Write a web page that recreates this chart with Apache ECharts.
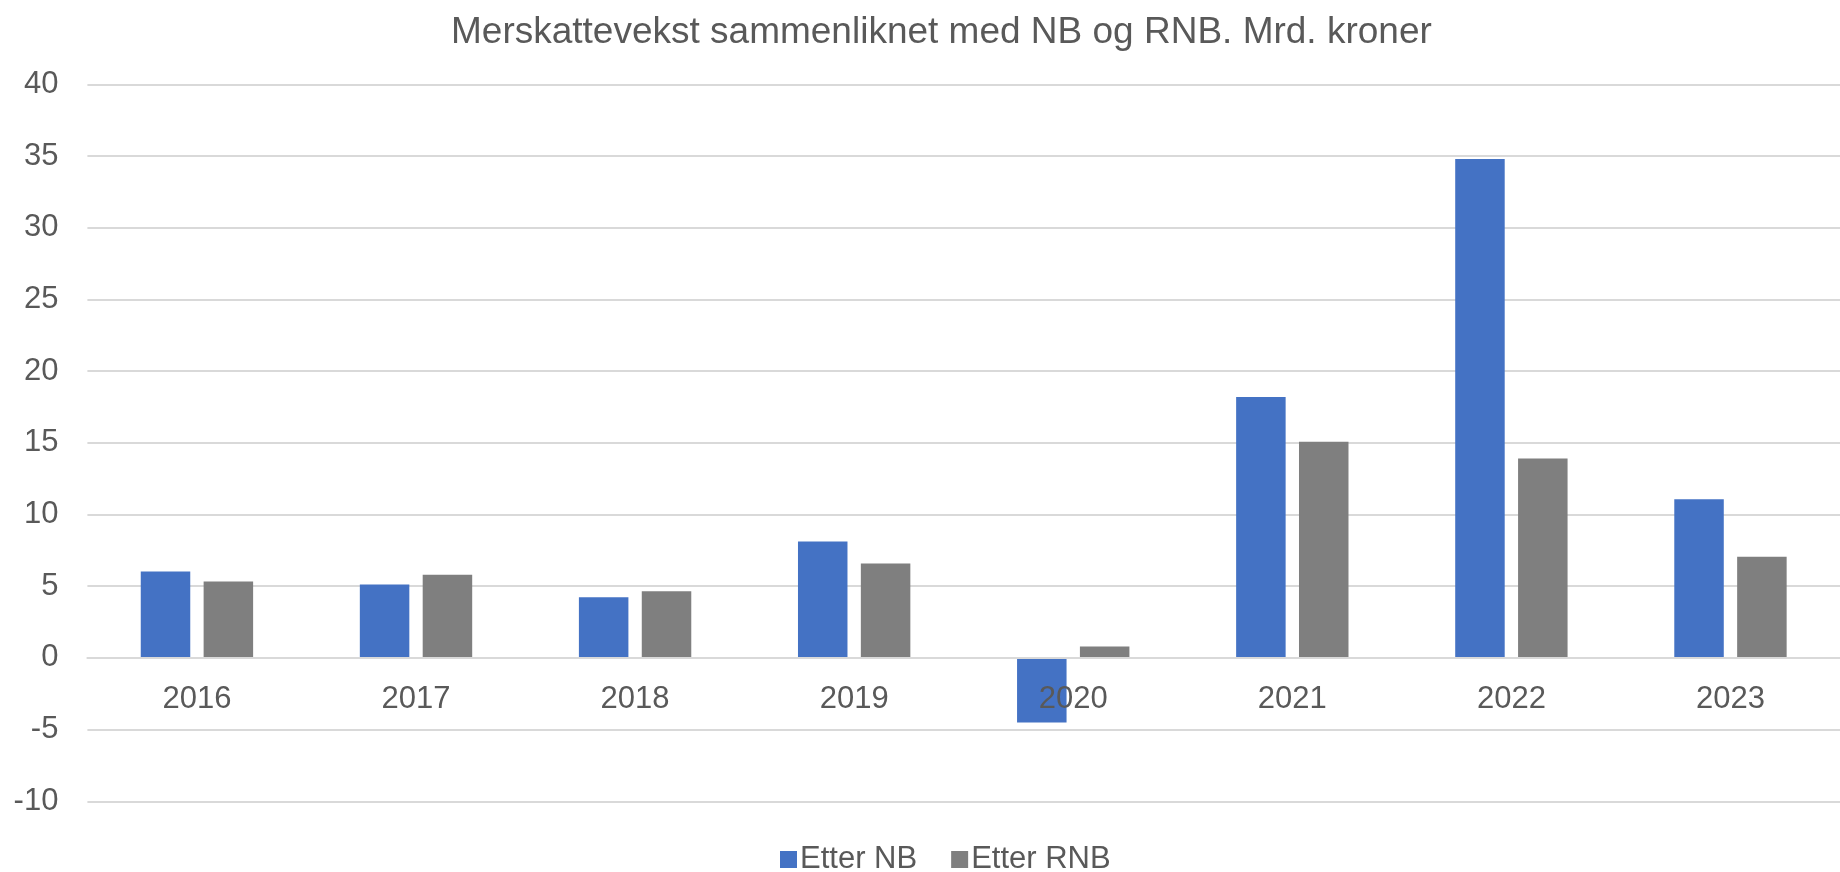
<!DOCTYPE html>
<html>
<head>
<meta charset="utf-8">
<script src="https://cdn.jsdelivr.net/npm/echarts@6/dist/echarts.min.js"></script>
<style>
html,body{margin:0;padding:0;background:#fff;}
#chart{width:1840px;height:872px;}
</style>
</head>
<body>
<div id="chart"></div>
<script>
const titleText = 'Merskattevekst sammenliknet med NB og RNB. Mrd. kroner';
const categories = ['2016','2017','2018','2019','2020','2021','2022','2023'];
const seriesNames = ['Etter NB','Etter RNB'];
const etterNB = [6.03, 5.12, 4.23, 8.12, -4.51, 18.19, 34.79, 11.07];
const etterRNB = [5.33, 5.79, 4.65, 6.59, 0.80, 15.07, 13.91, 7.05];
const yMin = -10, yMax = 40, yInterval = 5;

const FONT = '"Liberation Sans", Arial, sans-serif';
const gridTop = 84.3, gridBottom = 70.7, H = 872;
const plotH = H - gridTop - gridBottom;
const zeroOffset = plotH * (0 - yMin) / (yMax - yMin);

const chart = echarts.init(document.getElementById('chart'), null, {renderer:'canvas'});
chart.setOption({
  animation: false,
  backgroundColor: '#ffffff',
  title: {
    text: titleText,
    left: 446,
    top: 9,
    textStyle: {color:'#595959', fontSize:37, fontWeight:'normal', fontFamily:FONT}
  },
  legend: {
    data: seriesNames,
    left: 775,
    top: 839,
    icon: 'rect',
    itemWidth: 17,
    itemHeight: 17,
    itemGap: 34,
    textStyle: {color:'#595959', fontSize:31, fontFamily:FONT, padding:[0,0,0,-2]}
  },
  grid: {left: 87.4, right: -16, top: gridTop, bottom: gridBottom, containLabel:false},
  xAxis: {
    type: 'category',
    data: categories,
    offset: -zeroOffset,
    z: 5,
    axisLine: {show:true, onZero:false, lineStyle:{color:'#d9d9d9', width:2}},
    axisTick: {show:false},
    axisLabel: {color:'#595959', fontSize:31, fontFamily:FONT, margin:26},
    splitLine: {show:false}
  },
  yAxis: {
    type: 'value',
    min: yMin, max: yMax, interval: yInterval,
    axisLine: {show:false},
    axisTick: {show:false},
    axisLabel: {color:'#595959', fontSize:31, fontFamily:FONT, margin:29},
    splitLine: {lineStyle:{color:'#d9d9d9', width:2}}
  },
  series: [
    {name: seriesNames[0], type:'bar', data: etterNB, barWidth: 49.5, barGap:'27%', itemStyle:{color:'#4472C4'}},
    {name: seriesNames[1], type:'bar', data: etterRNB, barWidth: 49.5, barGap:'27%', itemStyle:{color:'#7F7F7F'}}
  ]
});
</script>
</body>
</html>
